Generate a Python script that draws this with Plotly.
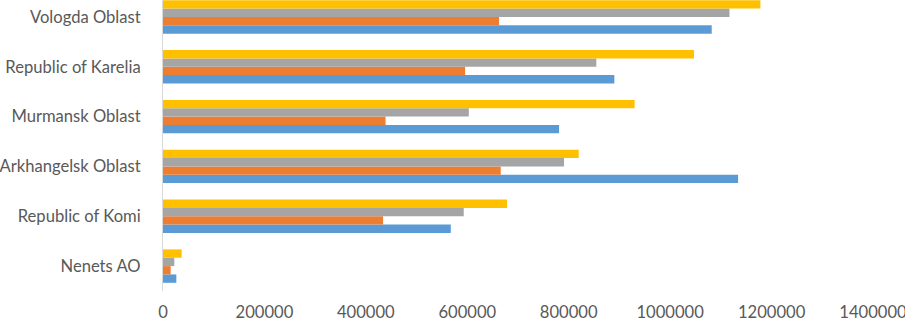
import plotly.graph_objects as go

regions = ["Nenets AO", "Republic of Komi", "Arkhangelsk Oblast",
           "Murmansk Oblast", "Republic of Karelia", "Vologda Oblast"]
series_1 = [26300, 567500, 1134000, 781000, 890000, 1082000]
series_2 = [15100, 434000, 666000, 438800, 595700, 662700]
series_3 = [22300, 593000, 790800, 603000, 854500, 1117000]
series_4 = [36800, 678500, 819700, 930000, 1047000, 1178000]
series_names = ["Series 1", "Series 2", "Series 3", "Series 4"]
colors = ["#5B9BD5", "#ED7D31", "#A5A5A5", "#FFC000"]
x_ticks = [0, 200000, 400000, 600000, 800000, 1000000, 1200000, 1400000]

fig = go.Figure()
for name, vals, c in zip(series_names, [series_1, series_2, series_3, series_4], colors):
    fig.add_trace(go.Bar(y=regions, x=vals, name=name, orientation="h",
                         marker=dict(color=c, line=dict(width=0))))

font = dict(family="Lato, 'Open Sans', sans-serif", size=16.6, color="#595959")
fig.update_layout(
    width=905, height=321,
    margin=dict(l=163, r=32, t=0, b=30),
    barmode="group", bargap=0.33, bargroupgap=0,
    showlegend=False,
    plot_bgcolor="white", paper_bgcolor="white",
    font=font,
    xaxis=dict(range=[0, 1400000], tickvals=x_ticks, tickformat="d",
               showgrid=False, zeroline=False, showline=False,
               ticks="", ticklabelstandoff=9, automargin=False,
               ticklabeloverflow="allow"),
    yaxis=dict(range=[-0.5, 5.34], showgrid=False, zeroline=False,
               showline=True, linecolor="#D9D9D9", linewidth=1,
               ticks="", ticklabelstandoff=18, automargin=False,
               ticklabeloverflow="allow"),
)
fig.write_html("out.html", config={"displayModeBar": False},
               post_script="document.body.style.margin='0';document.body.style.overflow='hidden';")
